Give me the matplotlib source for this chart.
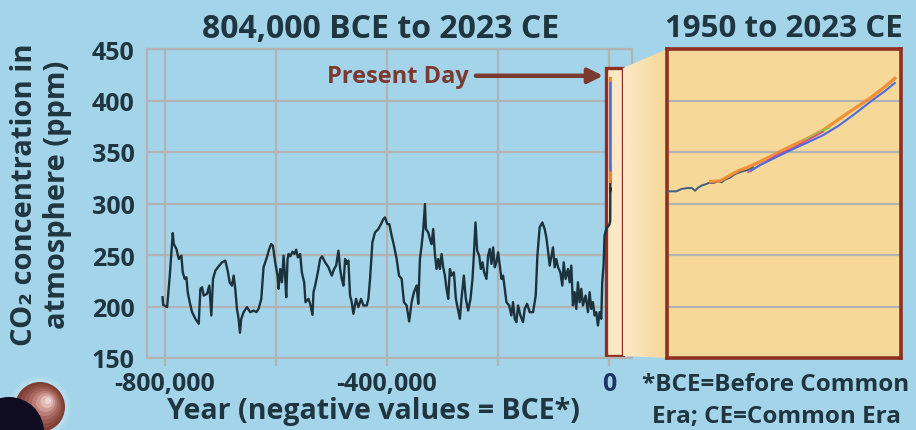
import matplotlib
matplotlib.use("Agg")
import matplotlib.pyplot as plt
import numpy as np
from matplotlib.patches import Rectangle, Polygon, Circle
from matplotlib.colors import LinearSegmentedColormap

# ---------------- data ----------------
ice_years = [-804000, -803000, -795800, -791000, -785600, -783800, -779000, -774850, -770100, -767700,
             -764100, -761100, -758700, -755100, -750900, -744900, -738900, -735900, -732900, -730000,
             -724000, -719800, -716200, -713200, -709000, -703000, -697000, -691000, -686800, -683200,
             -679000, -676000, -673100, -670100, -667100, -664700, -662300, -658100, -652100, -646100,
             -640100, -635300, -631100, -626300, -622200, -616200, -612000, -608400, -605400, -601200,
             -597000, -595200, -592200, -589200, -586200, -583200, -581400, -579000, -577200, -574200,
             -570100, -566500, -563500, -560500, -556300, -553300, -549100, -546700, -541300, -538300,
             -534100, -532300, -529300, -524500, -520400, -516800, -511400, -505400, -499400, -495200,
             -491600, -487400, -484400, -481400, -478400, -475400, -472400, -469500, -466500, -463500,
             -460500, -455700, -451500, -446700, -442500, -436500, -433500, -430500, -426300, -421600,
             -415600, -410800, -406600, -403600, -399400, -395800, -391600, -387400, -382600, -378400,
             -373600, -369500, -364700, -360100, -355700, -351500, -346700, -343700, -340700, -337700,
             -334700, -331700, -329900, -325800, -322800, -319800, -316800, -313800, -310800, -307800,
             -304800, -301800, -298800, -295800, -292800, -289800, -286800, -283800, -279600, -276000,
             -271900, -268900, -265900, -261700, -258100, -253900, -249700, -246100, -243700, -240700,
             -237700, -234100, -231100, -228100, -225200, -221000, -218000, -215000, -212000, -209000,
             -206000, -203000, -200000, -197000, -194000, -191000, -188000, -185000, -180200, -176100,
             -173100, -170100, -167100, -164100, -159900, -155100, -152100, -147900, -143100, -137100,
             -132300, -129300, -125200, -120400, -116200, -113200, -110200, -107200, -104000, -101200,
             -98200, -95200, -92200, -88000, -84400, -82000, -78500, -74300, -71300, -68300,
             -65300, -62300, -59300, -56300, -53300, -50300, -47300, -42500, -38300, -35300,
             -32300, -29300, -26300, -23300, -20300, -17300, -14300, -12600, -10200, -8400,
             -5400, -2000, 0, 1800, 1900, 1950]
ice_ppm = [209, 201.6, 199.4, 230, 271.3, 260.6, 255.8, 246.1, 249.4, 233.2,
           226.8, 228.4, 213.9, 204.2, 194.5, 188.1, 183.2, 217.1, 218.7, 210.6,
           212.3, 220.3, 191.3, 226.8, 234.8, 239.0, 242.9, 244.5, 234.8, 223.5,
           220.3, 230.0, 217.1, 197.7, 188.1, 174.5, 188.1, 194.5, 199.4, 194.5,
           196.1, 194.5, 197.7, 207.4, 238.1, 247.7, 255.8, 260.6, 259.0, 242.9,
           230.0, 217.1, 236.4, 223.5, 249.4, 226.8, 209.0, 246.1, 251.0, 248.7,
           253.2, 251.0, 255.2, 247.7, 251.0, 233.2, 223.5, 204.2, 207.4, 202.6,
           191.9, 213.9, 220.3, 233.2, 246.1, 248.7, 242.9, 238.1, 230.0, 236.4,
           239.7, 254.2, 236.4, 226.8, 220.3, 246.1, 241.3, 244.5, 210.6, 204.2,
           192.9, 207.4, 199.4, 207.4, 201.0, 201.0, 207.4, 226.8, 262.3, 271.9,
           275.2, 280.0, 284.8, 286.5, 280.0, 280.0, 268.7, 259.0, 246.1, 230.0,
           226.8, 204.2, 201.0, 185.5, 204.2, 213.9, 220.3, 202.6, 246.1, 259.0,
           275.2, 299.4, 275.2, 271.9, 265.5, 260.6, 275.2, 251.0, 236.4, 246.1,
           236.4, 251.0, 238.1, 230.0, 217.1, 207.4, 236.4, 230.0, 233.2, 207.4,
           196.1, 188.1, 207.4, 230.0, 207.4, 196.1, 207.4, 226.8, 249.4, 281.6,
           254.2, 249.4, 236.4, 242.9, 233.2, 226.8, 249.4, 255.8, 241.3, 257.4,
           238.1, 242.9, 252.6, 239.7, 226.8, 230.0, 217.1, 204.2, 201.0, 191.3,
           204.2, 188.1, 184.8, 201.0, 191.3, 184.8, 197.7, 202.6, 194.5, 194.5,
           210.6, 249.4, 276.8, 281.6, 275.2, 267.1, 254.2, 239.7, 249.4, 257.4,
           238.1, 246.1, 238.1, 233.2, 220.3, 242.9, 226.8, 236.4, 223.5, 239.7,
           201.0, 213.9, 197.7, 223.5, 204.2, 217.1, 201.0, 210.6, 194.5, 213.9,
           197.7, 204.2, 191.3, 194.5, 181.6, 194.5, 188.1, 223.5, 239.7, 268.7,
           275.2, 278, 279, 283, 296, 311]

law_years = [1950, 1953, 1954.5, 1956.5, 1958, 1959, 1960, 1961, 1962, 1963.5,
             1965, 1966.5, 1967.5, 1968.5, 1970, 1972, 1974, 1976, 1977.5]
law_ppm = [311.8, 311.8, 314, 315, 315, 312.4, 315.5, 317.3, 318.3, 320,
           320, 321.6, 320.6, 323, 324.8, 328.8, 331, 332.7, 335.3]

orange_years = [1964, 1967, 1970, 1973, 1976, 1980, 1985, 1990, 1995, 2000, 2005, 2010, 2015, 2020, 2023]
orange_ppm = [321.2, 322, 327, 332, 335.3, 340.8, 348.4, 356, 363, 371, 381.7, 392, 402, 413.7, 421.5]

blue_years = [1977, 1980, 1985, 1990, 1995, 2000, 2005, 2010, 2015, 2020, 2023]
blue_ppm = [332, 337.6, 345, 352.3, 359.2, 366.3, 375.5, 386.6, 398.4, 409.5, 417]

pink_years = [1976, 1985, 1990, 1995, 2000]
pink_ppm = [330.4, 346.7, 353.3, 361.4, 369.6]

green_years = [1994, 1997, 2000, 2002]
green_ppm = [361.4, 366.3, 371.2, 373.5]

yticks = [150, 200, 250, 300, 350, 400, 450]
xticks = [-800000, -600000, -400000, -200000, 0]
xtick_labels = ["-800,000", "", "-400,000", "", "0"]

# ---------------- style ----------------
BG = "#A3D4EA"
TXT = "#1F3540"
GRID = "#B3B3B3"
RED = "#8E2F21"
BROWN = "#7A3A30"
CREAM = "#FBE8C4"
INSET = "#F6D899"
DARK = "#1C333E"

plt.rcParams['font.family'] = ['Open Sans', 'DejaVu Sans']
plt.rcParams['font.weight'] = 'bold'

W, H = 916, 431
fig = plt.figure(figsize=(W / 100, H / 100), dpi=100, facecolor=BG)

def fx(px):
    return px / W

def fy(py):
    return 1 - py / H

# main axes
ax = fig.add_axes([fx(147), fy(359), fx(632) - fx(147), fy(50) - fy(359)])
ax.set_facecolor(BG)
ax.set_xlim(-832000, 41000)
ax.set_ylim(150, 450)
ax.set_xticks(xticks)
ax.set_xticklabels(xtick_labels)
ax.set_yticks(yticks)
ax.grid(True, color=GRID, lw=1.6)
ax.set_axisbelow(True)
for s in ax.spines.values():
    s.set_color(GRID)
    s.set_linewidth(1.6)
ax.tick_params(axis='x', length=5.5, width=1.6, color=GRID, labelsize=18, labelcolor=TXT, pad=4)
ax.tick_params(axis='y', length=0, labelsize=18, labelcolor=TXT, pad=9)
ax.get_xticklabels()[-1].set_color("#1E3466")
for lab in ax.get_xticklabels() + ax.get_yticklabels():
    lab.set_fontweight('bold')

ax.add_patch(Rectangle((-5400, 152), 30600, 279.5, facecolor=CREAM, edgecolor=RED,
                       lw=2.4, zorder=1.5, clip_on=False))
ax.plot(ice_years, ice_ppm, color=DARK, lw=1.7, zorder=3, solid_joinstyle='round')
ax.plot(law_years, law_ppm, color=DARK, lw=1.7, zorder=3)
ax.plot(orange_years, orange_ppm, color="#F0802A", lw=2.2, zorder=4)
ax.plot(blue_years, blue_ppm, color="#4A6CE0", lw=1.6, zorder=5)

ax.text(-252000, 424, "Present Day", color=BROWN, fontsize=17, fontweight='bold',
        ha='right', va='center', zorder=6)
ax.annotate("", xy=(-11000, 424), xytext=(-240000, 424),
            arrowprops=dict(arrowstyle='-|>', color=BROWN, lw=3.2, mutation_scale=22,
                            shrinkA=0, shrinkB=0), zorder=6)

ax.set_xlabel("Year (negative values = BCE*)", fontsize=20.5, fontweight='bold', color=TXT)
ax.xaxis.set_label_coords((373 - 147) / 485, -(412 - 359) / 309)
ax.xaxis.label.set_va('center')

# wedge with gradient
axw = fig.add_axes([fx(623), fy(359), fx(667) - fx(623), fy(50) - fy(359)])
axw.set_xlim(0, 1)
axw.set_ylim(0, 1)
axw.axis('off')
grad = np.linspace(0, 1, 256)[None, :]
cmap = LinearSegmentedColormap.from_list("w", ["#FBE9C8", "#F5D695"])
im = axw.imshow(grad, extent=[0, 1, 0, 1], aspect='auto', cmap=cmap, zorder=1)
poly = Polygon([[0, (359 - 69) / 309], [1, 1], [1, 0], [0, (359 - 357) / 309]], closed=True,
               transform=axw.transData, facecolor='none', edgecolor='none')
axw.add_patch(poly)
im.set_clip_path(poly)

# inset
ax2 = fig.add_axes([fx(667), fy(359), fx(901) - fx(667), fy(50) - fy(359)])
ax2.set_facecolor(INSET)
ax2.set_xlim(1950, 2025)
ax2.set_ylim(150, 450)
ax2.set_yticks(yticks[1:-1])
ax2.set_xticks([])
ax2.grid(True, axis='y', color=GRID, lw=1.6)
ax2.set_axisbelow(True)
ax2.tick_params(axis='y', length=0, labelleft=False)
for s in ax2.spines.values():
    s.set_color(RED)
    s.set_linewidth(2.6)
ax2.plot(law_years, law_ppm, color="#3F5E80", lw=1.4, zorder=3)
ax2.plot(orange_years, orange_ppm, color="#F28A2E", lw=2.4, zorder=3, alpha=0.9)
ax2.plot(green_years, green_ppm, color="#8DC63F", lw=1.3, zorder=4)
ax2.plot(pink_years, pink_ppm, color="#E8458C", lw=1.2, zorder=4)
ax2.plot(blue_years, blue_ppm, color="#4A6CE0", lw=1.5, zorder=5)

# titles and texts
fig.text(fx(381), fy(29), "804,000 BCE to 2023 CE", fontsize=23, fontweight='bold',
         color=TXT, ha='center', va='center')
fig.text(fx(784), fy(29), "1950 to 2023 CE", fontsize=22.5, fontweight='bold',
         color=TXT, ha='center', va='center')
fig.text(fx(41), fy(195), "CO\u2082 concentration in\natmosphere (ppm)", fontsize=21,
         fontweight='bold', color=TXT, ha='center', va='center', rotation=90,
         multialignment='center', linespacing=1.15)
fig.text(fx(776), fy(401), "*BCE=Before Common\nEra; CE=Common Era", fontsize=17.5,
         fontweight='bold', color=TXT, ha='center', va='center', multialignment='center',
         linespacing=1.4)

# molecule decoration
axm = fig.add_axes([0, 0, fx(120), 70 / H])
axm.set_xlim(0, 120)
axm.set_ylim(431, 361)
axm.axis('off')
for r, a in [(31, 0.10), (28, 0.15)]:
    axm.add_patch(Circle((40, 408), r, facecolor='white', alpha=a, edgecolor='none'))
shades = ["#7E3E34", "#8A4A40", "#985850", "#A8685F", "#BA7E76", "#CE9A93", "#E2BAB5", "#F0D6D3"]
for i, c in enumerate(shades):
    t = i / len(shades)
    rr = 25 * (1 - t)
    cx = 40 + (49 - 40) * t
    cy = 408 + (401 - 408) * t
    axm.add_patch(Circle((cx, cy), rr, facecolor=c, edgecolor='none'))
axm.add_patch(Circle((9, 433), 35, facecolor="#100C22", edgecolor='none'))

fig.savefig("out.png", dpi=100, facecolor=BG)
